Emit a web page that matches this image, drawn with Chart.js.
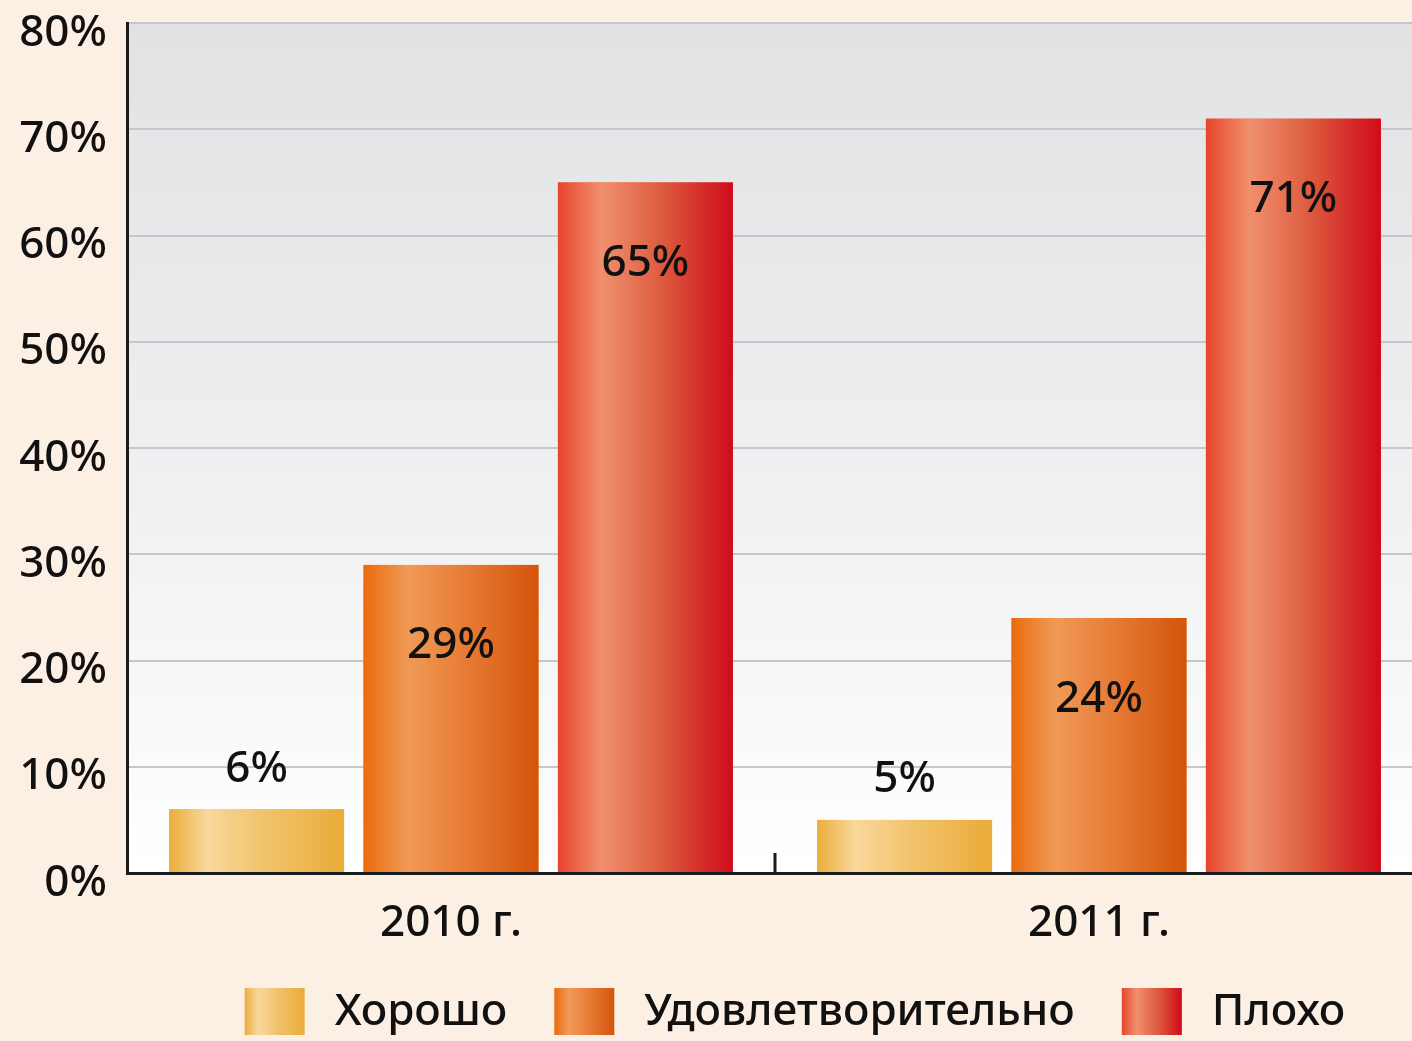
<!DOCTYPE html>
<html lang="ru">
<head>
    <meta charset="UTF-8">
    <script src="https://cdn.jsdelivr.net/npm/chart.js@4.4.1/dist/chart.umd.min.js"></script>
    <title>Оценка</title>
    <style>
        body {
            margin: 0;
            overflow: hidden;
            background: #fcefe3;
        }
        .Chart-Container {
            width: 1423px;
            height: 1041px;
        }
    </style>
</head>
<body>
    <div class="Chart-Container">
        <canvas id="ratingChart"></canvas>
    </div>
<script>
    var years = ['2010 г.', '2011 г.'];
    var seriesNames = ['Хорошо', 'Удовлетворительно', 'Плохо'];
    var good = [6, 5];
    var satisfactory = [29, 24];
    var bad = [65, 71];
    var yTicks = [0, 10, 20, 30, 40, 50, 60, 70, 80];

    // horizontal gradient stops for each series
    var barStops = [
        [[0, '#ebad3c'], [0.22, '#f8d89c'], [0.5, '#f2c572'], [1, '#eaab38']],
        [[0, '#eb6b0c'], [0.25, '#f09a58'], [0.6, '#e67a33'], [1, '#d4540a']],
        [[0, '#e8452c'], [0.25, '#f0906e'], [0.6, '#dd5a3e'], [1, '#cf0b1a']]
    ];
    var flatColors = ['#eeb850', '#e87a2a', '#e4533a'];
    var FONT = '"Noto Sans", sans-serif';
    var TEXT_FONT = '500 44px ' + FONT;

    function hGradient(ctx, x0, x1, stops) {
        var g = ctx.createLinearGradient(x0, 0, x1, 0);
        stops.forEach(s => g.addColorStop(s[0], s[1]));
        return g;
    }

    var decor = {
        id: 'decor',
        beforeDraw(chart) {
            var a = chart.chartArea, c = chart.ctx;
            var g = c.createLinearGradient(0, a.top, 0, a.bottom);
            g.addColorStop(0, '#e1e2e4');
            g.addColorStop(0.55, '#eff0f1');
            g.addColorStop(1, '#ffffff');
            c.save();
            c.fillStyle = g;
            c.fillRect(a.left, a.top, a.right - a.left, a.bottom - a.top);
            c.restore();
        },
        afterDatasetsDraw(chart) {
            var c = chart.ctx;
            c.save();
            chart.data.datasets.forEach((ds, di) => {
                chart.getDatasetMeta(di).data.forEach((bar, i) => {
                    var x0 = bar.x - bar.width / 2, x1 = bar.x + bar.width / 2;
                    c.fillStyle = hGradient(c, x0, x1, barStops[di]);
                    c.fillRect(x0, bar.y, bar.width, bar.base - bar.y);
                    var v = ds.data[i];
                    c.fillStyle = '#111';
                    c.font = TEXT_FONT;
                    c.textAlign = 'center';
                    c.textBaseline = 'middle';
                    var ty = v < 10 ? bar.y - 40 : bar.y + 81;
                    c.fillText(v + '%', bar.x, ty);
                });
            });
            c.restore();
        },
        afterDraw(chart) {
            var c = chart.ctx, a = chart.chartArea, xs = chart.scales.x;
            c.save();
            // tick between the two year groups
            var mid = (xs.getPixelForValue(0) + xs.getPixelForValue(1)) / 2;
            c.strokeStyle = '#1a1a1a';
            c.lineWidth = 3;
            c.beginPath();
            c.moveTo(mid, a.bottom - 20);
            c.lineTo(mid, a.bottom);
            c.stroke();

            // legend: box 60x47, 30px to text, 47px between items
            c.font = TEXT_FONT;
            c.textBaseline = 'middle';
            c.textAlign = 'left';
            var widths = seriesNames.map(n => c.measureText(n).width);
            var total = widths.reduce((s, w) => s + w + 90, 0) + 47 * (seriesNames.length - 1);
            var x = 795 - total / 2, boxTop = 988;
            seriesNames.forEach((name, i) => {
                c.fillStyle = hGradient(c, x, x + 60, barStops[i]);
                c.fillRect(x, boxTop, 60, 47);
                c.fillStyle = '#111';
                c.fillText(name, x + 90, boxTop + 24);
                x += 90 + widths[i] + 47;
            });
            c.restore();
        }
    };

    var ctx = document.getElementById('ratingChart').getContext('2d');
    var ratingChart = new Chart(ctx, {
        type: 'bar',
        data: {
            labels: years,
            datasets: [good, satisfactory, bad].map((d, i) => ({
                label: seriesNames[i],
                data: d,
                backgroundColor: flatColors[i],
                borderWidth: 0,
                barPercentage: 0.9,
                categoryPercentage: 0.9
            }))
        },
        options: {
            animation: false,
            responsive: true,
            maintainAspectRatio: false,
            layout: {
                padding: { top: 23, right: 0, left: 0, bottom: 58 }
            },
            scales: {
                x: {
                    afterFit: s => { s.height = 110; },
                    grid: { display: false, drawTicks: false },
                    border: { display: true, color: '#1a1a1a', width: 3 },
                    ticks: {
                        color: '#111',
                        padding: 24,
                        font: { family: FONT, size: 44, weight: 500 }
                    }
                },
                y: {
                    min: 0,
                    max: 80,
                    afterFit: s => { s.width = 127; s.paddingTop = 0; s.paddingBottom = 0; },
                    afterBuildTicks: s => { s.ticks = yTicks.map(v => ({ value: v })); },
                    grid: { color: '#c6c7ca', lineWidth: 2, drawTicks: false },
                    border: { display: true, color: '#1a1a1a', width: 3 },
                    ticks: {
                        color: '#111',
                        padding: 20,
                        labelOffset: 10,
                        font: { family: FONT, size: 44, weight: 500 },
                        callback: v => v + '%'
                    }
                }
            },
            plugins: {
                tooltip: { enabled: false },
                legend: { display: false }
            }
        },
        plugins: [decor]
    });
</script>
</body>
</html>
